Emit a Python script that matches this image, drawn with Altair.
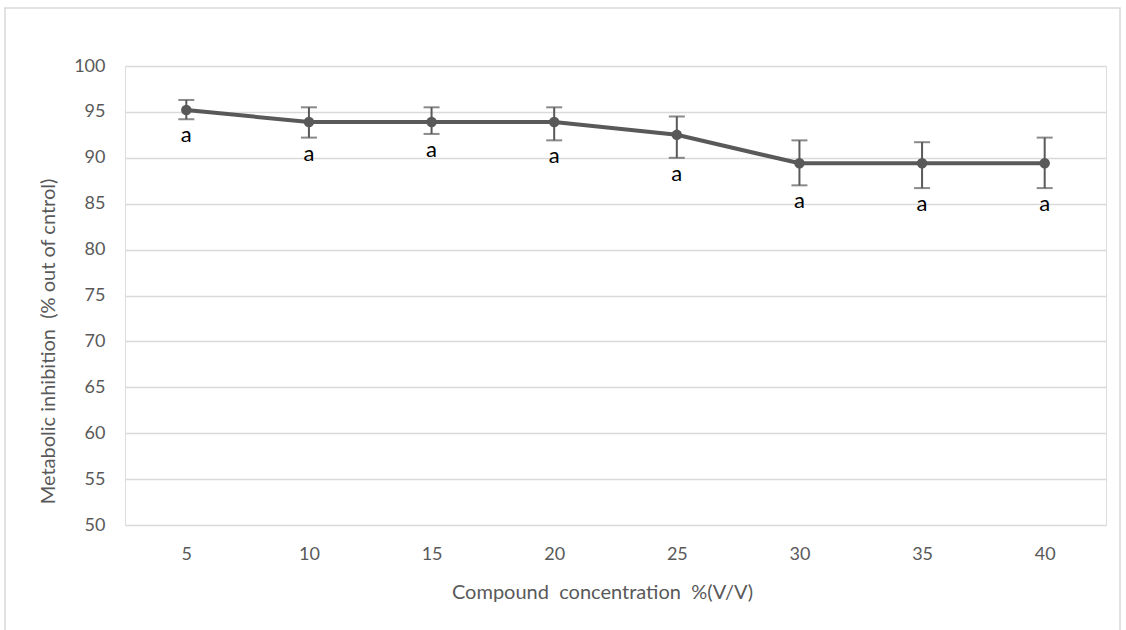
import altair as alt
import pandas as pd

conc = ["5", "10", "15", "20", "25", "30", "35", "40"]
mean = [95.2, 93.9, 93.9, 93.9, 92.5, 89.4, 89.4, 89.4]
upper = [96.3, 95.5, 95.5, 95.5, 94.5, 91.9, 91.7, 92.2]
lower = [94.2, 92.2, 92.6, 91.9, 90.0, 87.0, 86.7, 86.7]
letters = ["a"] * 8

df = pd.DataFrame({"conc": conc, "mean": mean, "upper": upper, "lower": lower, "lab": letters})

FONT = "Lato"
GREY = "#595959"
W, H = 981, 459
NB = "\u00a0"

xscale = alt.Scale(type="point", padding=0.5, domain=conc)
xenc = alt.X("conc:N", scale=xscale,
             axis=alt.Axis(title=f"Compound{NB} concentration{NB} %(V/V)", labelAngle=0,
                           labelPadding=20, ticks=False, domain=False, grid=False,
                           titleY=57, titleX=477,
                           titleFontWeight="normal", titleFontSize=20, labelFontSize=18,
                           labelColor=GREY, titleColor=GREY, labelFont=FONT, titleFont=FONT))
yscale = alt.Scale(domain=[50, 100], nice=False, zero=False)

base = alt.Chart(df)

line = base.mark_line(color=GREY, strokeWidth=4).encode(
    x=xenc,
    y=alt.Y("mean:Q", scale=yscale,
            axis=alt.Axis(title=f"Metabolic inhibition{NB} (% out of cntrol)", values=list(range(50, 101, 5)),
                          labelPadding=20, ticks=False, domain=False, gridColor="#d9d9d9", gridWidth=1.5,
                          titleFontWeight="normal", titleFontSize=20, labelFontSize=18,
                          titleX=-77, titleY=275, titleAngle=-90, titleBaseline="middle",
                          titleAlign="center",
                          labelColor=GREY, titleColor=GREY, labelFont=FONT, titleFont=FONT)),
)
X = alt.X("conc:N", scale=xscale)
pts = base.mark_circle(color=GREY, size=110, opacity=1).encode(x=X, y="mean:Q")
rule = base.mark_rule(color=GREY, strokeWidth=2).encode(x=X, y="lower:Q", y2="upper:Q")
cap_top = base.mark_tick(color=GREY, size=16, thickness=2, orient="horizontal").encode(x=X, y="upper:Q")
cap_bot = base.mark_tick(color=GREY, size=16, thickness=2, orient="horizontal").encode(x=X, y="lower:Q")
text = base.mark_text(color="black", font=FONT, fontSize=22, baseline="alphabetic", dy=23).encode(
    x=X, y="lower:Q", text="lab:N")

border = alt.Chart(pd.DataFrame({"a": [0]})).mark_rect(
    fill=None, stroke="#d9d9d9", strokeWidth=1.5, clip=False
).encode(x=alt.value(-120), x2=alt.value(995), y=alt.value(-58), y2=alt.value(570))

chart = alt.layer(border, line, rule, cap_top, cap_bot, pts, text).properties(
    width=W, height=H,
    autosize=alt.AutoSizeParams(type="none"),
    padding={"left": 125, "top": 66, "right": 20, "bottom": 105},
).configure_view(stroke=None).configure(background="white")

chart.save("out.html", embed_options={"renderer": "svg", "actions": False})
